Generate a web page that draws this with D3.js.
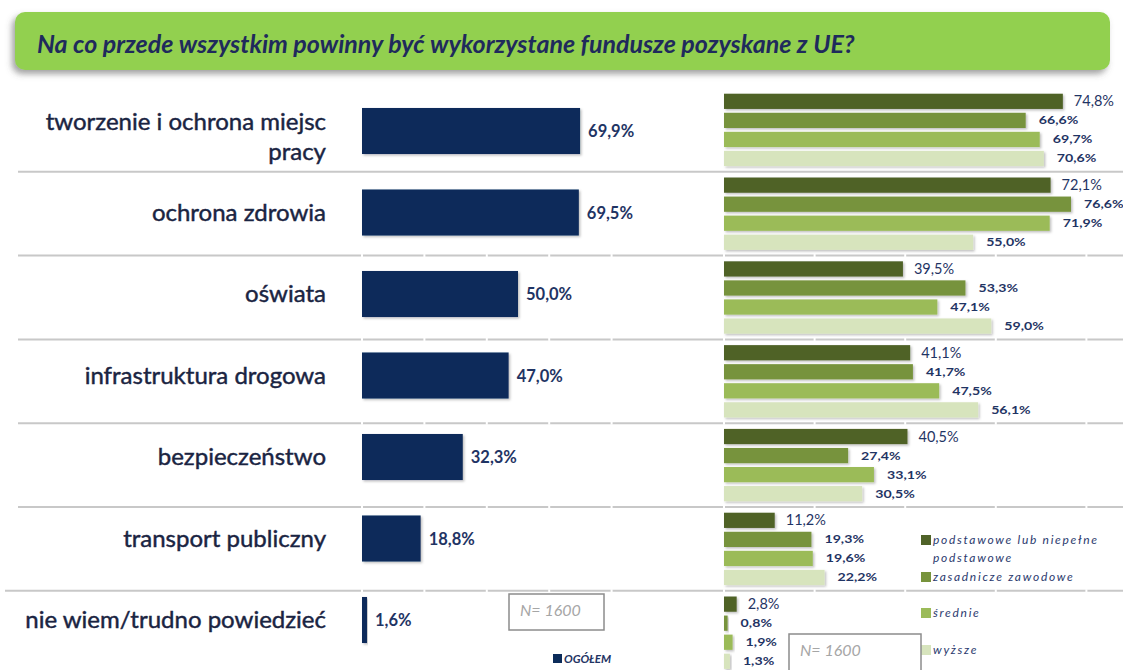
<!DOCTYPE html>
<html>
<head>
<meta charset="utf-8">
<script src="https://cdnjs.cloudflare.com/ajax/libs/d3/7.8.5/d3.min.js"></script>
<style>
  body { margin: 0; background: #fff; }
  svg { display: block; font-family: Lato, "Open Sans", sans-serif; }
</style>
</head>
<body>
<svg id="chart" width="1123" height="670"></svg>
<script>
// data
const title = 'Na co przede wszystkim powinny być wykorzystane fundusze pozyskane z UE?'
const categories = [
  ['tworzenie i ochrona miejsc', 'pracy'],
  ['ochrona zdrowia'],
  ['oświata'],
  ['infrastruktura drogowa'],
  ['bezpieczeństwo'],
  ['transport publiczny'],
  ['nie wiem/trudno powiedzieć']
]
const ogolem = [69.9, 69.5, 50.0, 47.0, 32.3, 18.8, 1.6]

const eduSeries = ['podstawowe lub niepełne podstawowe', 'zasadnicze zawodowe', 'średnie', 'wyższe']
const podstawowe  = [74.8, 72.1, 39.5, 41.1, 40.5, 11.2, 2.8]
const zasadnicze  = [66.6, 76.6, 53.3, 41.7, 27.4, 19.3, 0.8]
const srednie     = [69.7, 71.9, 47.1, 47.5, 33.1, 19.6, 1.9]
const wyzsze      = [70.6, 55.0, 59.0, 56.1, 30.5, 22.2, 1.3]
const sampleNote = 'N= 1600'

const navy = '#0c2c5a'
const textNavy = '#1f3464'
const greens = ['#4f6228', '#77933c', '#9bbb59', '#d7e4bd']

const svg = d3.select('#chart')
const defs = svg.append('defs')

// shadows
defs.append('filter').attr('id', 'boxShadow').attr('x', '-5%').attr('y', '-30%').attr('width', '110%').attr('height', '170%')
  .append('feDropShadow').attr('dx', -3).attr('dy', 4).attr('stdDeviation', 3)
  .attr('flood-color', '#555').attr('flood-opacity', 0.55)
defs.append('filter').attr('id', 'barShadow').attr('x', '-10%').attr('y', '-20%').attr('width', '130%').attr('height', '160%')
  .append('feDropShadow').attr('dx', 1.5).attr('dy', 1.5).attr('stdDeviation', 1.2)
  .attr('flood-color', '#000').attr('flood-opacity', 0.25)

// ______ title box ______
svg.append('rect')
  .attr('x', 15).attr('y', 12).attr('width', 1095).attr('height', 58)
  .attr('rx', 10).attr('fill', '#92d050')
  .attr('filter', 'url(#boxShadow)')
svg.append('text')
  .attr('x', 37).attr('y', 53)
  .attr('font-size', 25).attr('font-weight', 'bold').attr('font-style', 'italic')
  .attr('fill', '#1f2a5c')
  .text(title)

// ______ scales ______
const idx = d3.range(categories.length)
const yRow = d3.scaleBand().domain(idx).range([88, 88 + 83.8 * 7])
const yLeft = d3.scaleBand().domain(idx).range([90.25, 660.75])
  .paddingInner(0.435).paddingOuter(0.2175)
const xLeft = d3.scaleLinear().domain([0, 100]).range([362, 674])
const xRight = d3.scaleLinear().domain([0, 100]).range([724, 1177])
const yInner = d3.scaleBand().domain(d3.range(4)).range([0, yRow.bandwidth()])
  .paddingInner(0.2).paddingOuter(0.3)

// ______ separators ______
const seps = idx.slice(1)
svg.append('g').selectAll('line')
  .data(seps)
  .join('line')
    .attr('x1', (d, i) => i === seps.length - 1 ? 5 : 18)
    .attr('x2', 1123)
    .attr('y1', d => yRow(d)).attr('y2', d => yRow(d))
    .attr('stroke', '#c8c8c8').attr('stroke-width', 2)
// little gaps where the old gridlines met
const gapX = [0, 20, 40, 60, 80].map(v => xLeft(v)).concat([0, 20, 40, 60, 80].map(v => xRight(v)))
svg.append('g').selectAll('rect')
  .data(d3.cross(seps.slice(1), gapX))
  .join('rect')
    .attr('x', d => d[1] - 1).attr('y', d => yRow(d[0]) - 1.5)
    .attr('width', 2).attr('height', 3).attr('fill', '#fff')

// ______ left: category labels ______
const lab = svg.append('g')
  .attr('font-size', 24).attr('fill', '#1a2442').attr('text-anchor', 'end')
  .attr('stroke', '#1a2442').attr('stroke-width', 0.45)
categories.forEach((lines, i) => {
  const c = yLeft(i) + yLeft.bandwidth() / 2
  lines.forEach((t, j) => {
    lab.append('text')
      .attr('x', 326)
      .attr('y', c + 8 + (j - (lines.length - 1) / 2) * 30 + (lines.length - 1) * 6)
      .text(t)
  })
})

// ______ left: OGÓŁEM bars ______
svg.append('g').selectAll('rect')
  .data(ogolem)
  .join('rect')
    .attr('x', xLeft(0))
    .attr('y', (d, i) => yLeft(i))
    .attr('width', d => xLeft(d) - xLeft(0))
    .attr('height', yLeft.bandwidth())
    .attr('fill', navy)
    .attr('filter', 'url(#barShadow)')

const fmt = v => d3.format('.1f')(v).replace('.', ',') + '%'

svg.append('g').selectAll('text')
  .data(ogolem)
  .join('text')
    .attr('x', d => xLeft(d) + 8)
    .attr('y', (d, i) => yLeft(i) + yLeft.bandwidth() / 2 + 6)
    .attr('font-size', 16.5).attr('font-weight', 'bold').attr('fill', textNavy)
    .text(d => fmt(d))

// ______ right: education groups ______
const eduValues = [podstawowe, zasadnicze, srednie, wyzsze]
eduValues.forEach((vals, s) => {
  const g = svg.append('g')
  g.selectAll('rect')
    .data(vals)
    .join('rect')
      .attr('x', xRight(0))
      .attr('y', (d, i) => yRow(i) + yInner(s))
      .attr('width', d => xRight(d) - xRight(0))
      .attr('height', yInner.bandwidth())
      .attr('fill', greens[s])
      .attr('filter', 'url(#barShadow)')
  // first series has plain larger labels, the others small wide bold ones
  g.selectAll('text')
    .data(vals)
    .join('text')
      .attr('transform', (d, i) => {
        const x = xRight(d) + (s === 0 ? 11 : 13)
        const y = yRow(i) + yInner(s) + yInner.bandwidth() / 2 + (s === 0 ? 5 : 4)
        return `translate(${x},${y})` + (s === 0 ? '' : 'scale(1.35,1)')
      })
      .attr('font-size', s === 0 ? 14.5 : 10.5)
      .attr('font-weight', s === 0 ? 'normal' : 'bold')
      .attr('fill', textNavy)
      .text(d => fmt(d))
})

// ______ legend (education) ______
const legY = [544, 581, 617, 654]
const leg = svg.append('g')
eduSeries.forEach((name, i) => {
  leg.append('rect')
    .attr('x', 921).attr('y', legY[i] - 9).attr('width', 10).attr('height', 10)
    .attr('fill', greens[i])
  const words = i === 0 ? ['podstawowe lub niepełne', 'podstawowe'] : [name]
  words.forEach((w, j) => {
    leg.append('text')
      .attr('x', 933).attr('y', legY[i] + j * 18)
      .attr('font-size', 12).attr('font-style', 'italic')
      .attr('letter-spacing', 1.7).attr('fill', '#2b3a6e')
      .text(w)
  })
})

// ______ legend (ogółem) ______
svg.append('rect').attr('x', 553).attr('y', 654).attr('width', 9).attr('height', 9).attr('fill', navy)
svg.append('text')
  .attr('x', 564).attr('y', 663)
  .attr('font-size', 11.5).attr('font-weight', 'bold').attr('font-style', 'italic')
  .attr('fill', textNavy)
  .text('OGÓŁEM')

// ______ N boxes ______
function nBox(x, y, w, h){
  svg.append('rect')
    .attr('x', x).attr('y', y).attr('width', w).attr('height', h)
    .attr('fill', '#fff').attr('stroke', '#8c8c8c').attr('stroke-width', 1.5)
  svg.append('text')
    .attr('x', x + 11).attr('y', y + 22)
    .attr('font-size', 16).attr('font-style', 'italic').attr('fill', '#a6a6a6')
    .text(sampleNote)
}
nBox(509, 594, 95, 36)
nBox(789, 634, 132, 42)
</script>
</body>
</html>
